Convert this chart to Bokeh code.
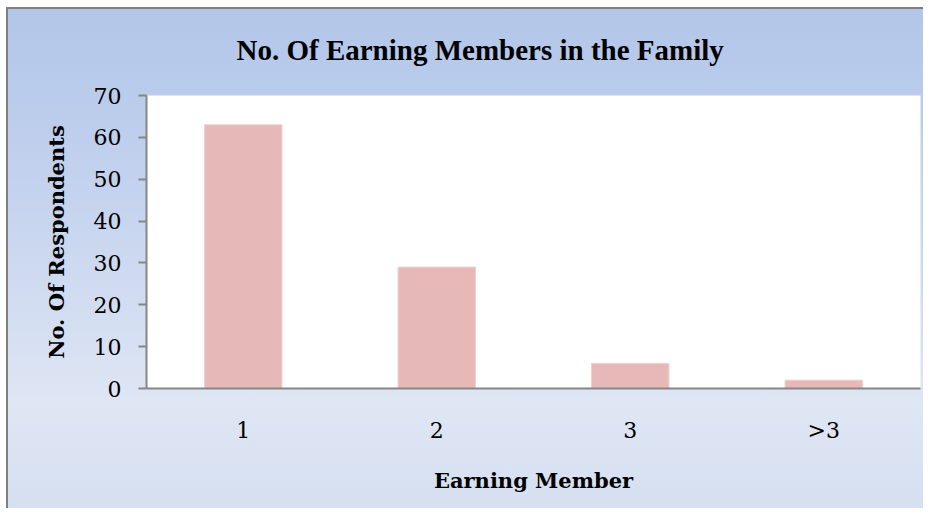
from bokeh.plotting import figure
from bokeh.models import Range1d, FixedTicker, Title, FactorRange
from bokeh.embed import file_html
from bokeh.resources import INLINE

categories = ["1", "2", "3", ">3"]
respondents = [63, 29, 6, 2]
y_ticks = [0, 10, 20, 30, 40, 50, 60, 70]

p = figure(
    x_range=FactorRange(*categories, range_padding=0),
    y_range=Range1d(0, 70),
    width=923, height=508,
    output_backend="svg", toolbar_location=None,
    min_border_left=146, min_border_right=3,
    min_border_top=95, min_border_bottom=120,
)
p.border_fill_color = None
p.background_fill_color = "white"
p.outline_line_color = None
p.styles = {
    "background-color": "white",
    "background-image": ("linear-gradient(#7f7f7f, #7f7f7f), linear-gradient(#7f7f7f, #7f7f7f), "
                         "linear-gradient(to bottom, #b2c6e9 0%, #c3d2ee 35%, #dfe6f4 78%, #d5dff0 100%)"),
    "background-position": "6px 7px, 6px 7px, 8px 9px",
    "background-size": "2px 100%, 100% 2px, 100% 100%",
    "background-repeat": "no-repeat",
}

p.vbar(x=categories, top=respondents, width=0.4,
       fill_color="#e6b8b7", line_color="#f0cfce", line_width=1)

p.add_layout(Title(text="No. Of Earning Members in the Family", align="left", offset=90,
                   text_font="Liberation Serif", text_font_size="29px",
                   text_font_style="bold", text_color="black", standoff=60), "above")

p.xgrid.grid_line_color = None
p.ygrid.grid_line_color = None

p.yaxis.ticker = FixedTicker(ticks=y_ticks)
for ax in (p.xaxis, p.yaxis):
    ax.axis_line_color = "#868686"
    ax.axis_line_width = 2
    ax.major_label_text_font = "DejaVu Serif"
    ax.major_label_text_font_size = "22px"
    ax.major_label_text_color = "black"
    ax.axis_label_text_font = "DejaVu Serif"
    ax.axis_label_text_font_size = "21px"
    ax.axis_label_text_font_style = "bold"
    ax.axis_label_text_color = "black"
    ax.minor_tick_line_color = None

p.yaxis.major_tick_line_color = "#868686"
p.yaxis.major_tick_line_width = 2
p.yaxis.major_tick_out = 8
p.yaxis.major_tick_in = 0
p.yaxis.major_label_standoff = 17
p.yaxis.axis_label = "No. Of Respondents"
p.yaxis.axis_label_standoff = 22

p.xaxis.major_tick_line_color = None
p.xaxis.major_label_standoff = 23
p.xaxis.axis_label = "Earning Member"
p.xaxis.axis_label_standoff = 22

open("out.html", "w").write(file_html(p, INLINE))
